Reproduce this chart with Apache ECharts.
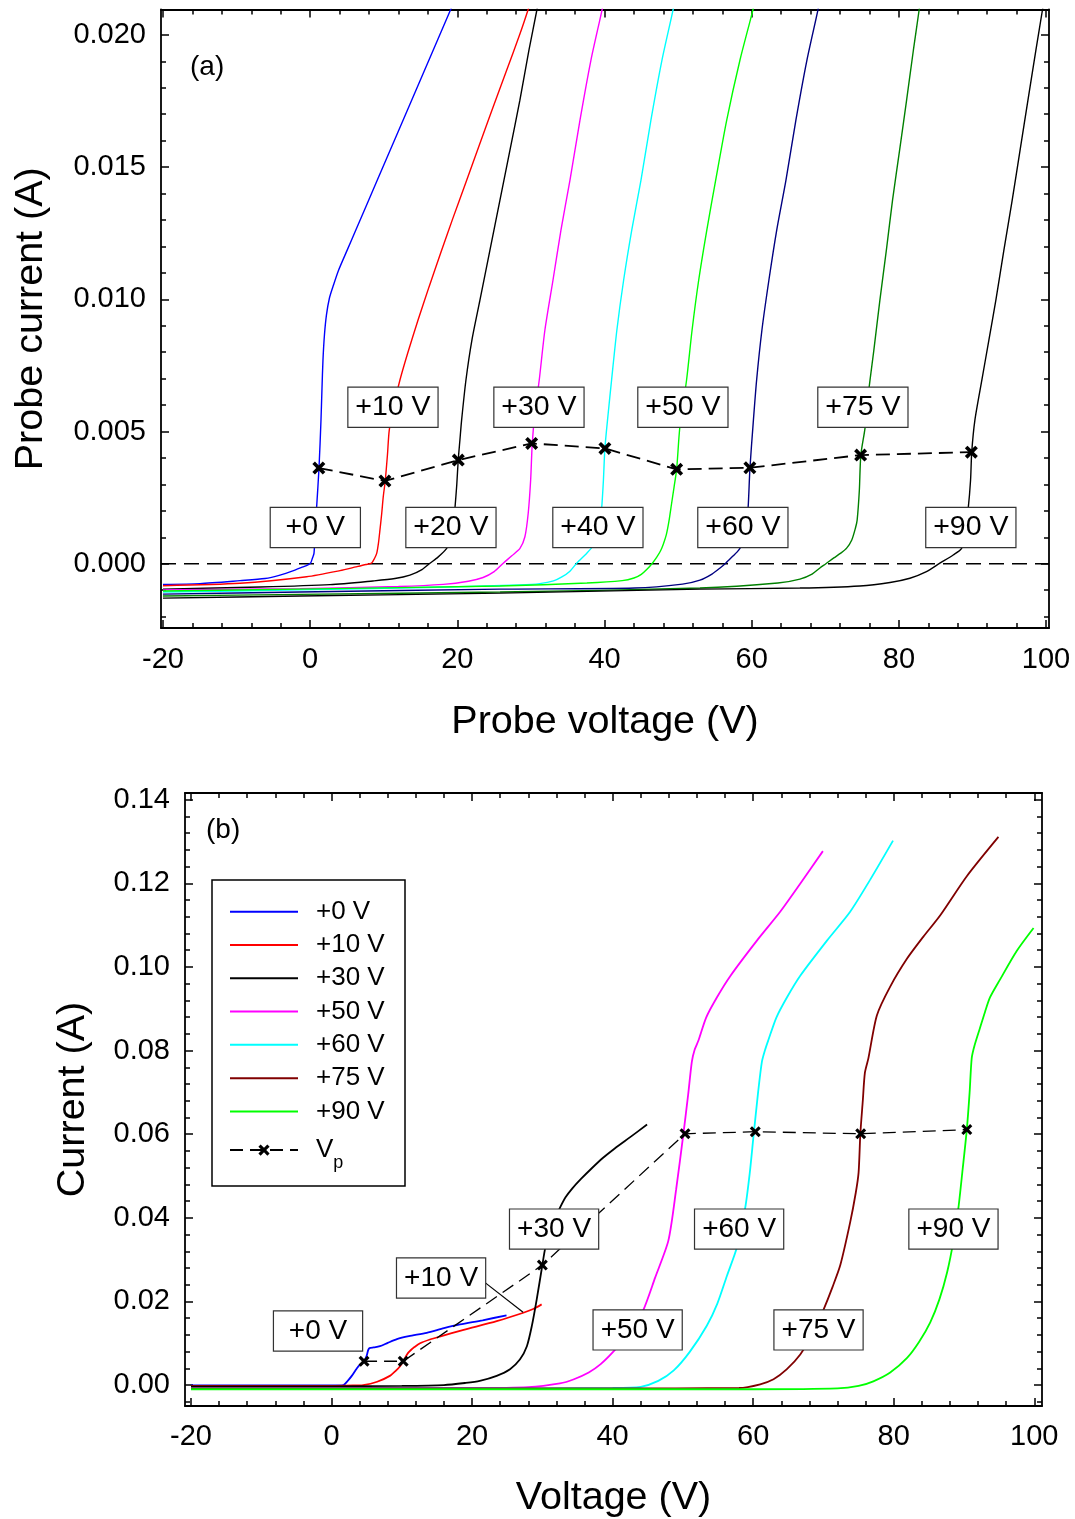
<!DOCTYPE html>
<html><head><meta charset="utf-8">
<script src="https://cdn.jsdelivr.net/npm/echarts@6/dist/echarts.min.js"></script>
<style>html,body{margin:0;padding:0;background:#fff}#c{width:1075px;height:1519px}</style>
</head><body><div id="c"></div>
<script>
// ---------------- DATA ----------------
// Panel (a): probe voltage (V) vs probe current (mA)
const a0V  = [[-20,-0.78],[-14.97,-0.75],[-9.54,-0.64],[-6.14,-0.56],[-4.1,-0.43],[-2.07,-0.24],[-0.98,-0.12],[-0.3,-0.04],[0.07,0.03],[0.29,0.2],[0.52,0.39],[0.69,1.27],[0.88,2.15],[1.2,3.61],[1.47,5.43],[1.6,6.57],[1.74,7.7],[1.94,8.65],[2.21,9.4],[2.62,10.05],[3.17,10.54],[3.86,11.1],[5.03,11.86],[6.25,12.65],[7.54,13.48],[9.17,14.54],[11.63,16.13],[15.37,18.55],[19.05,20.93],[19.45,21.2]];
const a10V = [[-20,-0.83],[-9.54,-0.74],[-0.48,-0.49],[4.05,-0.26],[6.22,-0.12],[7.58,-0.03],[8.36,0.03],[8.74,0.2],[9.04,0.39],[9.28,0.78],[9.48,1.27],[9.73,1.92],[9.93,2.53],[10.2,3.13],[10.5,4.11],[10.75,5.05],[11.39,6.0],[12.2,6.95],[13.29,8.0],[14.65,9.21],[16.14,10.46],[17.77,11.78],[19.4,13.07],[21.17,14.43],[22.93,15.79],[24.7,17.15],[26.6,18.59],[28.5,20.03],[29.59,20.93],[29.86,21.2]];
const a20V = [[-20,-0.96],[-6.8,-0.88],[2.7,-0.79],[8.53,-0.65],[11.52,-0.56],[13.56,-0.43],[15.19,-0.22],[16.28,0.02],[17.37,0.25],[18.55,0.58],[19.13,0.97],[19.47,1.46],[19.67,2.09],[19.92,2.98],[20.12,3.92],[20.35,4.68],[20.58,5.43],[21.17,6.95],[21.98,8.46],[23.07,9.97],[24.43,11.86],[25.79,13.75],[27.15,15.64],[28.5,17.53],[29.73,19.42],[30.82,20.96],[30.95,21.2]];
const a30V = [[-20,-0.99],[-1.4,-0.94],[12,-0.86],[18.1,-0.78],[21.5,-0.66],[23.5,-0.52],[25.0,-0.3],[26.24,0.02],[27.4,0.3],[28.51,0.58],[29.18,1.02],[29.63,1.91],[29.96,3.16],[30.18,4.55],[30.54,5.69],[31.13,6.95],[31.9,8.84],[33.0,10.73],[34.08,12.62],[35.3,14.5],[36.66,16.77],[38.15,19.04],[39.65,20.93],[39.8,21.2]];
const a40V = [[-20,-1.07],[-1.4,-0.99],[19,-0.88],[28.5,-0.8],[31.2,-0.75],[33.07,-0.65],[34.2,-0.5],[35.3,-0.28],[36.21,0.02],[37.57,0.39],[38.42,0.67],[38.97,1.09],[39.38,1.65],[39.61,2.1],[39.85,3.16],[40.05,4.36],[40.5,5.69],[40.96,6.95],[41.68,8.84],[42.6,10.73],[43.7,12.62],[44.95,14.5],[46.3,16.77],[47.8,19.04],[49.3,20.93],[49.45,21.2]];
const a50V = [[-20,-1.03],[-1.4,-0.96],[25.8,-0.84],[37.6,-0.73],[42.4,-0.64],[44.0,-0.54],[45.0,-0.40],[45.8,-0.20],[46.5,0.02],[47.1,0.25],[47.6,0.48],[48.0,0.75],[48.4,1.1],[48.75,1.6],[49.1,2.25],[49.45,2.9],[49.8,3.57],[50.24,5.18],[51.15,6.95],[51.9,8.84],[52.8,10.73],[53.9,12.62],[55.1,14.5],[56.6,16.77],[58.4,19.04],[60.15,20.93],[60.3,21.2]];
const a60V = [[-20,-1.15],[-1.4,-1.07],[25.8,-0.96],[44.13,-0.92],[50.6,-0.77],[52.97,-0.62],[54.6,-0.39],[55.7,-0.16],[56.5,0.03],[57.45,0.29],[58.0,0.44],[58.4,0.58],[58.7,0.8],[58.95,1.09],[59.3,1.65],[59.52,2.15],[59.76,3.61],[60.2,5.31],[60.67,6.95],[61.39,8.84],[62.34,10.73],[63.4,12.62],[64.65,14.5],[66.0,16.77],[67.5,19.04],[68.99,20.93],[69.13,21.2]];
const a75V = [[-20,-1.22],[-1.4,-1.16],[25.8,-1.07],[52.97,-0.92],[63.56,-0.73],[66.55,-0.58],[68.2,-0.39],[69.27,-0.16],[70.08,0],[71.16,0.22],[72.1,0.4],[72.9,0.59],[73.6,0.9],[74.1,1.35],[74.33,1.65],[74.63,2.79],[74.83,4.11],[75.4,5.13],[75.95,6.65],[76.6,8.08],[77.42,9.97],[78.3,11.86],[79.14,13.75],[80.1,15.64],[81.05,17.53],[81.97,19.42],[82.76,20.96],[82.86,21.2]];
const a90V = [[-20,-1.30],[-1.4,-1.22],[25.8,-1.11],[52.97,-0.96],[66.55,-0.92],[74.7,-0.84],[78.8,-0.71],[81.5,-0.55],[83.67,-0.31],[85.57,0.02],[87.38,0.33],[88.52,0.58],[89.03,1.27],[89.42,2.09],[89.74,3.16],[89.9,4.22],[90.33,5.43],[91.28,6.95],[92.23,8.46],[93.18,9.97],[94.27,11.86],[95.4,13.75],[96.47,15.64],[97.54,17.53],[98.62,19.42],[99.52,20.96],[99.66,21.2]];
const vpA  = [[1.18,3.62],[10.16,3.13],[20.13,3.92],[30.1,4.55],[40.05,4.36],[49.8,3.57],[59.75,3.63],[74.8,4.11],[89.85,4.22]];
const namesA = ['+0 V','+10 V','+20 V','+30 V','+40 V','+50 V','+60 V','+75 V','+90 V'];
const curvesA = [a0V,a10V,a20V,a30V,a40V,a50V,a60V,a75V,a90V];
// label boxes (a): [text, V, A]
const boxesA = [['+0 V',0.70,0.00137],['+10 V',11.25,0.00592],['+20 V',19.13,0.00137],['+30 V',31.09,0.00592],['+40 V',39.1,0.00137],['+50 V',50.65,0.00592],['+60 V',58.8,0.00137],['+75 V',75.11,0.00592],['+90 V',89.78,0.00137]];

// Panel (b): voltage (V) vs current (A)
const b0V  = [[-20,-0.0001],[0,-0.0001],[1.68,0.0],[2.3,0.001],[2.88,0.0022],[3.4,0.0035],[3.82,0.0045],[4.63,0.0057],[5.0,0.0070],[5.24,0.0085],[5.5,0.0089],[6.0,0.0090],[6.9,0.0093],[8.0,0.0101],[9.3,0.0110],[11.0,0.0117],[13.55,0.0125],[16,0.0136],[18.3,0.0145],[21.5,0.0155],[24.9,0.0167]];
const b10V = [[-20,-0.0002],[0,-0.0002],[3,-0.0001],[4.5,0.0],[6.5,0.0008],[8.3,0.0022],[9.2,0.0035],[9.75,0.0045],[10.2,0.0057],[10.6,0.0069],[10.9,0.0077],[11.3,0.0084],[11.8,0.0091],[12.6,0.0100],[14,0.0109],[15.4,0.0116],[18.8,0.0132],[23.5,0.0153],[27.3,0.0173],[28.7,0.0182],[29.9,0.0193]];
const b30V = [[-20,-0.0003],[0,-0.0003],[10,-0.0002],[16,0.0],[19,0.0005],[21.1,0.001],[23.5,0.0022],[25.4,0.0038],[26.8,0.0061],[27.8,0.0093],[28.5,0.0141],[29.2,0.0205],[30.0,0.0287],[30.4,0.0327],[31.0,0.0365],[31.7,0.0396],[32.5,0.0424],[33.3,0.0449],[34.3,0.0471],[35.5,0.0493],[37.0,0.0518],[38.6,0.0543],[40.3,0.0566],[42.5,0.0593],[44.9,0.0623]];
const b50V = [[-20,-0.0007],[20,-0.0007],[28,-0.0005],[32.5,0.0004],[34.5,0.0014],[36.6,0.0030],[38.3,0.0050],[40.0,0.0078],[41.5,0.0108],[43.0,0.0142],[44.38,0.0180],[46.05,0.0257],[47.94,0.0346],[49.04,0.0468],[50.08,0.0602],[50.75,0.0695],[51.27,0.0773],[51.67,0.0802],[52.21,0.0824],[53.31,0.0879],[54.83,0.0927],[56.73,0.0978],[60.53,0.1063],[63.84,0.1132],[66.69,0.1199],[69.92,0.1277]];
const b60V = [[-20,-0.0008],[20,-0.0008],[40,-0.0007],[44,-0.0004],[46.5,0.0010],[48.7,0.0035],[51,0.0080],[53.4,0.0142],[54.9,0.0195],[56.26,0.0261],[57.68,0.0329],[58.86,0.0423],[59.5,0.0505],[60.04,0.0594],[60.7,0.0700],[61.24,0.0773],[61.7,0.0802],[62.14,0.0824],[63.3,0.0879],[64.8,0.0927],[66.7,0.0979],[70.5,0.1063],[73.8,0.1132],[76.7,0.1210],[79.9,0.1302]];
const b75V = [[-20,-0.0008],[40,-0.0008],[58,-0.0007],[61,0.0002],[62.9,0.0014],[64.8,0.0038],[66.7,0.0073],[68.4,0.0120],[70.0,0.0180],[71.3,0.0235],[72.4,0.0287],[73.8,0.0389],[74.6,0.0460],[75.0,0.0508],[75.25,0.0601],[75.6,0.0680],[75.9,0.0747],[76.4,0.0782],[77.6,0.0884],[79.5,0.0953],[81.9,0.1020],[84.2,0.1072],[86.6,0.1123],[90.4,0.1217],[94.9,0.1311]];
const b90V = [[-20,-0.001],[60,-0.001],[72,-0.0008],[75,-0.0002],[77.1,0.0009],[79.5,0.0030],[81.9,0.0065],[83.6,0.0103],[85.2,0.0150],[86.5,0.0205],[87.6,0.0270],[88.5,0.0345],[89.2,0.0423],[89.8,0.0515],[90.4,0.0611],[90.8,0.0700],[91.1,0.0782],[91.5,0.0812],[92.2,0.0850],[93.0,0.0893],[93.7,0.0927],[95.1,0.0969],[97.5,0.1038],[99.9,0.1093]];
const vpB  = [[4.63,0.0057],[10.2,0.0057],[30.0,0.0287],[50.3,0.0601],[60.3,0.0606],[75.3,0.0601],[90.4,0.0611]];
const namesB = ['+0 V','+10 V','+30 V','+50 V','+60 V','+75 V','+90 V'];
const curvesB = [b0V,b10V,b30V,b50V,b60V,b75V,b90V];
const boxesB = [['+0 V',-1.92,0.01295],['+10 V',15.59,0.0256],['+30 V',31.67,0.0373],['+50 V',43.56,0.0132],['+60 V',58.0,0.0373],['+75 V',69.3,0.0132],['+90 V',88.5,0.0373]];
const leaderB = [[21.85,0.0245],[27.26,0.0174]];

// Tick values
const xTicks  = [-20,0,20,40,60,80,100];
const yTicksA = [0,0.005,0.010,0.015,0.020];
const yTicksB = [0,0.02,0.04,0.06,0.08,0.10,0.12,0.14];

// ---------------- STYLE ----------------
const FONT = '"Liberation Sans", Arial, Helvetica, sans-serif';
const colorsA = ['#0000ff','#ff0000','#000000','#ff00ff','#00ffff','#00ff00','#000080','#008000','#000000'];
const colorsB = ['#0000ff','#ff0000','#000000','#ff00ff','#00ffff','#800000','#00ff00'];
const XMARK = 'path://M0,2L2,0L5,3L8,0L10,2L7,5L10,8L8,10L5,7L2,10L0,8L3,5Z';

function minorsOf(major, n) {
  const out = [];
  const step = (major[1]-major[0])/n;
  for (let i = -1; i < major.length; i++) {
    const b = i < 0 ? major[0]-(major[1]-major[0]) : major[i];
    for (let k = 1; k < n; k++) out.push(+(b + k*step).toFixed(6));
  }
  return out;
}

function axisSet(dim, grid, min, max, major, minor, o) {
  const pos = dim === 'x' ? ['bottom','top'] : ['left','right'];
  const base = {type:'value', gridIndex:grid, min:min, max:max, splitLine:{show:false}};
  const tick = (vals, len) => ({show:true, inside:true, length:len, customValues:vals, lineStyle:{color:'#000', width:1.5}});
  const minorVals = minor.filter(v => v > min && v < max);
  return [
    Object.assign({}, base, {position:pos[0],
      axisLine:{show:true, onZero:false, lineStyle:{color:'#000', width:1.8}},
      axisTick:tick(major, 8),
      axisLabel:{show:true, customValues:major, formatter:o.fmt, margin:o.margin, color:'#000', fontSize:29, fontFamily:FONT},
      name:o.name, nameLocation:'middle', nameGap:o.nameGap,
      nameTextStyle:{color:'#000', fontSize:39.5, fontFamily:FONT}}),
    Object.assign({}, base, {position:pos[0], axisLine:{show:false, onZero:false}, axisTick:tick(minorVals, 5), axisLabel:{show:false}}),
    Object.assign({}, base, {position:pos[1], axisLine:{show:true, onZero:false, lineStyle:{color:'#000', width:1.8}}, axisTick:tick(major, 8), axisLabel:{show:false}}),
    Object.assign({}, base, {position:pos[1], axisLine:{show:false, onZero:false}, axisTick:tick(minorVals, 5), axisLabel:{show:false}})
  ];
}

const xFmt = v => String(Math.round(v));
const xAxes = [].concat(
  axisSet('x', 0, -20.27, 100.4, xTicks, minorsOf(xTicks,5), {fmt:xFmt, margin:17, name:'Probe voltage (V)', nameGap:74}),
  axisSet('x', 1, -20.85, 101.1, xTicks, minorsOf(xTicks,5), {fmt:xFmt, margin:16, name:'Voltage (V)', nameGap:72})
);
const yAxes = [].concat(
  axisSet('y', 0, -0.00243, 0.02096, yTicksA, minorsOf(yTicksA,5), {fmt:v => v.toFixed(3), margin:15, name:'Probe current (A)', nameGap:110}),
  axisSet('y', 1, -0.0050, 0.1416, yTicksB, minorsOf(yTicksB,5), {fmt:v => v.toFixed(2), margin:15, name:'Current (A)', nameGap:92})
);

const series = [];
// zero reference line (a)
series.push({type:'line', xAxisIndex:0, yAxisIndex:0, data:[[-20.27,0],[100.4,0]], symbol:'none', silent:true,
  lineStyle:{color:'#000', width:1.3, type:[15,8]}, z:1});
curvesA.forEach((c, i) => series.push({
  type:'line', name:'a'+namesA[i], xAxisIndex:0, yAxisIndex:0, symbol:'none', smooth:0.25, silent:true,
  data:c.map(p => [p[0], p[1]/1000]), lineStyle:{color:colorsA[i], width:1.4}, z:2
}));
series.push({type:'line', name:'aVp', xAxisIndex:0, yAxisIndex:0, data:vpA.map(p => [p[0], p[1]/1000]),
  symbol:XMARK, symbolSize:13, itemStyle:{color:'#000'}, silent:true,
  lineStyle:{color:'#000', width:1.8, type:[14,7]}, z:5});
const boxLabel = (fs, w) => ({show:true, position:'inside', formatter:p => p.name, color:'#000', opacity:1,
    textBorderWidth:0, fontSize:fs, fontFamily:FONT,
    backgroundColor:'#fff', borderColor:'#333', borderWidth:1.2, padding:[4,6,3,6], width:w, align:'center', lineHeight:32});
series.push({type:'scatter', xAxisIndex:0, yAxisIndex:0, symbol:'rect', symbolSize:1, itemStyle:{color:'#fff', opacity:1}, silent:true, z:10,
  data:boxesA.map(b => ({name:b[0], value:[b[1], b[2]]})), label:boxLabel(28.5, 77)});

curvesB.forEach((c, i) => series.push({
  type:'line', name:namesB[i], xAxisIndex:4, yAxisIndex:4, symbol:'none', smooth:0.25, silent:true,
  data:c, lineStyle:{color:colorsB[i], width:1.8}, itemStyle:{color:colorsB[i]}, z:2
}));
series.push({type:'line', name:'Vp', xAxisIndex:4, yAxisIndex:4, data:vpB,
  symbol:XMARK, symbolSize:11, itemStyle:{color:'#000'}, silent:true,
  lineStyle:{color:'#000', width:1.3, type:[13,7]}, z:5});
series.push({type:'line', xAxisIndex:4, yAxisIndex:4, data:leaderB, symbol:'none', silent:true,
  lineStyle:{color:'#000', width:1.2}, z:6});
series.push({type:'scatter', xAxisIndex:4, yAxisIndex:4, symbol:'rect', symbolSize:1, itemStyle:{color:'#fff', opacity:1}, silent:true, z:10,
  data:boxesB.map(b => ({name:b[0], value:[b[1], b[2]]})), label:boxLabel(28, 76)});

const lineIcon = 'path://M0,0L68,0L68,2L0,2Z';
const legendData = namesB.map(n => ({name:n, icon:lineIcon})).concat([{name:'Vp'}]);

const option = {
  animation:false,
  backgroundColor:'#fff',
  textStyle:{fontFamily:FONT},
  grid:[
    {left:161, right:26, top:9.5, height:618.5, containLabel:false},
    {left:185, right:33, top:793, height:614, containLabel:false}
  ],
  xAxis:xAxes,
  yAxis:yAxes,
  legend:{
    data:legendData, orient:'vertical', left:212, top:880, selectedMode:false,
    itemWidth:68, itemHeight:14, itemGap:0, symbolKeepAspect:true,
    padding:[15,17,14,17], borderColor:'#000', borderWidth:1.5, backgroundColor:'#fff',
    formatter:n => n === 'Vp' ? '{v|V}{p|p}' : n,
    textStyle:{color:'#000', fontSize:26, fontFamily:FONT, lineHeight:33.3, width:72, padding:[0,0,0,13],
      rich:{v:{fontSize:26, fontFamily:FONT, color:'#000', lineHeight:44},
            p:{fontSize:18, fontFamily:FONT, color:'#000', lineHeight:33.3, verticalAlign:'bottom', padding:[14,0,0,0]}}}
  },
  graphic:[
    {type:'text', left:190, top:53, style:{text:'(a)', font:'28px "Liberation Sans", Arial, sans-serif', fill:'#000'}},
    {type:'text', left:206, top:816, style:{text:'(b)', font:'28px "Liberation Sans", Arial, sans-serif', fill:'#000'}}
  ],
  series:series
};
const chart = echarts.init(document.getElementById('c'), null, {renderer:'canvas'});
chart.setOption(option);
</script>
</body></html>
